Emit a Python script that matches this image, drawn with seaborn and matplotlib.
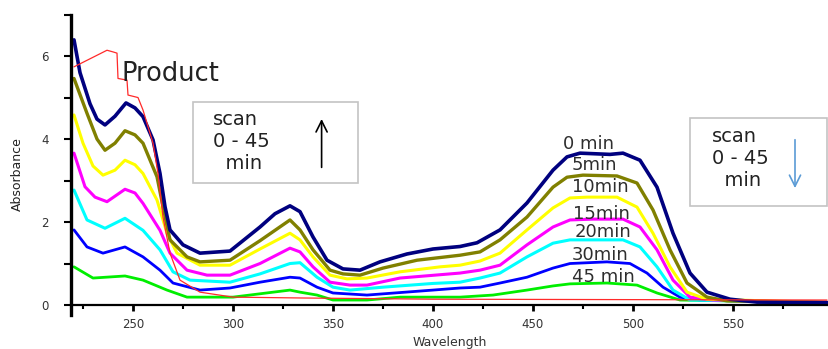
import matplotlib
matplotlib.use("Agg")
import matplotlib.pyplot as plt
import seaborn as sns
import pandas as pd
from matplotlib.patches import Rectangle
from matplotlib.ticker import MultipleLocator

# ---------------- data ----------------
wl_0min = [220.5, 223.5, 228.5, 232, 236, 241, 246.5, 251, 255, 260, 263.5, 266, 268.5, 275, 283.5,
           298.5, 313.5, 321, 328.5, 333.5, 340, 347, 355, 363.5, 373.5, 387, 400, 413.5, 422, 433.5,
           447, 460, 467, 473.5, 488.5, 495, 503.5, 512, 520, 528.5, 537, 548.5, 562, 597]
abs_0min = [6.39, 5.6, 4.85, 4.48, 4.34, 4.55, 4.87, 4.75, 4.54, 3.98, 3.17, 2.37, 1.81, 1.45, 1.25,
            1.30, 1.88, 2.2, 2.39, 2.25, 1.64, 1.08, 0.87, 0.84, 1.04, 1.23, 1.35, 1.41, 1.5, 1.81,
            2.46, 3.25, 3.57, 3.66, 3.63, 3.66, 3.49, 2.84, 1.73, 0.77, 0.31, 0.14, 0.07, 0.06]

wl_5min = [220.5, 227, 232, 236, 241, 246, 251, 255, 262, 265, 268.5, 277, 283.5, 298.5, 313.5,
           328.5, 333.5, 340, 348.5, 355, 363.5, 375, 392, 413.5, 423.5, 433.5, 447, 460, 467, 475,
           492, 502, 510, 518.5, 527, 537, 547, 597]
abs_5min = [5.46, 4.62, 4.0, 3.73, 3.9, 4.20, 4.1, 3.9, 3.09, 2.37, 1.57, 1.16, 1.04, 1.08, 1.55,
            2.05, 1.81, 1.33, 0.84, 0.75, 0.72, 0.89, 1.08, 1.2, 1.28, 1.57, 2.12, 2.84, 3.08, 3.13,
            3.11, 2.94, 2.29, 1.33, 0.53, 0.19, 0.1, 0.06]

wl_10min = [220.5, 225, 230, 235, 241, 246, 251, 255, 262, 267, 272, 283.5, 298.5, 313.5, 328.5,
            333.5, 340, 348.5, 357, 367, 383.5, 403.5, 413.5, 423.5, 433.5, 447, 460, 468.5, 477,
            492, 502, 510, 518.5, 527, 537, 597]
abs_10min = [4.58, 3.9, 3.35, 3.13, 3.25, 3.49, 3.38, 3.17, 2.53, 1.73, 1.25, 0.96, 0.96, 1.35, 1.73,
             1.57, 1.16, 0.72, 0.63, 0.65, 0.8, 0.92, 0.96, 1.06, 1.25, 1.81, 2.34, 2.58, 2.6,
             2.6, 2.36, 1.73, 0.92, 0.31, 0.14, 0.06]

wl_15min = [220.5, 226, 231, 237, 246, 251, 255, 263.5, 268.5, 277, 287, 298.5, 313.5, 328.5, 333.5,
            340, 348.5, 358.5, 367, 383.5, 413.5, 423.5, 433.5, 447, 460, 468.5, 480, 495, 503.5,
            512, 520, 528.5, 540, 597]
abs_15min = [3.66, 2.85, 2.6, 2.49, 2.79, 2.7, 2.45, 1.8, 1.25, 0.84, 0.72, 0.72, 1.0, 1.37, 1.28,
             0.92, 0.55, 0.48, 0.48, 0.65, 0.77, 0.84, 0.96, 1.45, 1.88, 2.05, 2.07, 2.07, 1.88,
             1.33, 0.6, 0.19, 0.12, 0.06]

wl_20min = [220.5, 227, 236, 246, 255, 263.5, 270, 278.5, 298.5, 313.5, 328.5, 333.5, 342, 350,
            358.5, 375, 400, 413.5, 423.5, 433.5, 447, 460, 468.5, 495, 503.5, 512, 520, 528.5, 597]
abs_20min = [2.77, 2.05, 1.85, 2.09, 1.8, 1.33, 0.8, 0.6, 0.55, 0.75, 1.0, 1.02, 0.67, 0.43,
             0.36, 0.43, 0.52, 0.55, 0.65, 0.77, 1.16, 1.49, 1.57, 1.57, 1.4, 0.92, 0.36, 0.12, 0.06]

wl_30min = [220.5, 227, 235, 246, 255, 263.5, 270, 283.5, 298.5, 313.5, 328.5, 333.5, 342, 350,
            367, 400, 413.5, 423.5, 433.5, 447, 460, 468.5, 487, 498.5, 507, 515, 523.5, 533.5, 597]
abs_30min = [1.81, 1.40, 1.25, 1.40, 1.16, 0.84, 0.53, 0.36, 0.41, 0.55, 0.67, 0.65, 0.43, 0.29,
             0.24, 0.36, 0.41, 0.43, 0.53, 0.67, 0.89, 1.0, 1.04, 1.0, 0.77, 0.43, 0.19, 0.12, 0.06]

wl_45min = [220.5, 230, 246, 255, 267, 277, 300, 328.5, 333.5, 342, 350, 367, 383.5, 413.5, 430,
            447, 460, 468.5, 487, 502, 512, 523.5, 597]
abs_45min = [0.92, 0.65, 0.70, 0.6, 0.36, 0.19, 0.19, 0.36, 0.31, 0.24, 0.12, 0.12, 0.19, 0.19, 0.24,
             0.36, 0.46, 0.51, 0.53, 0.48, 0.29, 0.12, 0.06]

wl_product = [220.5, 237, 240, 242, 242.5, 247, 247.5, 252.5, 255, 260, 262.5, 265, 268.5, 273.5,
              283.5, 300, 333.5, 400, 597]
abs_product = [5.74, 6.14, 6.1, 6.07, 5.46, 5.42, 5.06, 5.0, 4.7, 3.9, 3.17, 2.12, 1.25, 0.6,
               0.31, 0.19, 0.17, 0.14, 0.12]

curve_labels = ["0 min", "5min", "10min", "15min", "20min", "30min", "45 min"]
annotation_text = "Product"
box_text = "scan\n0 - 45\n  min"
x_label = "Wavelength"
y_label = "Absorbance"

# ---------------- styling / layout ----------------
sns.set_style("white")
plt.rcParams['font.family'] = ['DejaVu Sans']

series = [
    (wl_45min, abs_45min, "#00ee00", 2.0),
    (wl_30min, abs_30min, "#0000ff", 2.0),
    (wl_20min, abs_20min, "#00ffff", 2.2),
    (wl_15min, abs_15min, "#ff00ff", 2.2),
    (wl_10min, abs_10min, "#ffff00", 2.2),
    (wl_5min, abs_5min, "#808000", 2.4),
    (wl_0min, abs_0min, "#00007f", 2.6),
    (wl_product, abs_product, "#ff2a2a", 0.9),
]

fig = plt.figure(figsize=(8.29, 3.49), dpi=100)
ax = fig.add_axes([71 / 829, 0.0963, 758 / 829, 0.862])

for wl, ab, col, lw in series:
    df = pd.DataFrame({"wl": wl, "abs": ab})
    sns.lineplot(data=df, x="wl", y="abs", color=col, linewidth=lw, ax=ax,
                 estimator=None, sort=False, legend=False)

ax.set_xlim(219, 598)
ax.set_ylim(-0.25, 7.0)

for s in ("top", "right"):
    ax.spines[s].set_visible(False)
ax.spines["bottom"].set_position(("data", 0))
ax.spines["left"].set_linewidth(2.4)
ax.spines["left"].set_color("black")
ax.spines["bottom"].set_linewidth(1.6)
ax.spines["bottom"].set_color("black")

ax.xaxis.set_major_locator(MultipleLocator(50))
ax.xaxis.set_minor_locator(MultipleLocator(25))
ax.yaxis.set_major_locator(MultipleLocator(2))
ax.yaxis.set_minor_locator(MultipleLocator(1))
ax.tick_params(axis="both", which="both", direction="out", color="black",
               bottom=True, left=True, labelcolor="#333333")
ax.tick_params(axis="y", which="major", length=5, width=1.5, pad=11, labelsize=8.5)
ax.tick_params(axis="y", which="minor", length=5, width=1.5)
ax.tick_params(axis="x", which="major", length=4, width=2, pad=5, labelsize=8.5)
ax.tick_params(axis="x", which="minor", length=3, width=1.5)

ax.set_xlabel(x_label, fontsize=9, color="#333333")
ax.set_ylabel(y_label, fontsize=9, color="#222222")
ax.xaxis.set_label_coords(0.5, -0.07)
ax.yaxis.set_label_coords(-0.062, 0.47)

# curve labels
label_pos = [(465, 3.89), (469.5, 3.37), (469.5, 2.84), (470, 2.2), (471, 1.76), (469.5, 1.21), (469.5, 0.67)]
for txt, (x, y) in zip(curve_labels, label_pos):
    ax.text(x, y, txt, fontsize=13, color="#2e2e2e", ha="left", va="center")

ax.text(244.5, 5.57, annotation_text, fontsize=18.5, color="#222222", ha="left", va="center")

# boxes
ax.add_patch(Rectangle((279.9, 2.95), 82.8, 1.95, facecolor="white", edgecolor="#c4c4c4", lw=1.2, zorder=5))
ax.text(290, 3.93, box_text, fontsize=14, color="#222222", ha="left", va="center",
        multialignment="left", linespacing=1.2, zorder=6)
ax.annotate("", xy=(344.3, 4.55), xytext=(344.3, 3.25),
            arrowprops=dict(arrowstyle="->", color="black", lw=1.2, mutation_scale=20), zorder=6)

ax.add_patch(Rectangle((528.5, 2.39), 68.5, 2.12, facecolor="white", edgecolor="#c4c4c4", lw=1.2,
                       zorder=5, clip_on=False))
ax.text(539.5, 3.54, box_text, fontsize=14, color="#222222", ha="left", va="center",
        multialignment="left", linespacing=1.2, zorder=6)
ax.annotate("", xy=(581, 2.75), xytext=(581, 4.05),
            arrowprops=dict(arrowstyle="->", color="#5b9bd5", lw=1.2, mutation_scale=20), zorder=6)

fig.savefig("out.png", dpi=100, facecolor="white")
